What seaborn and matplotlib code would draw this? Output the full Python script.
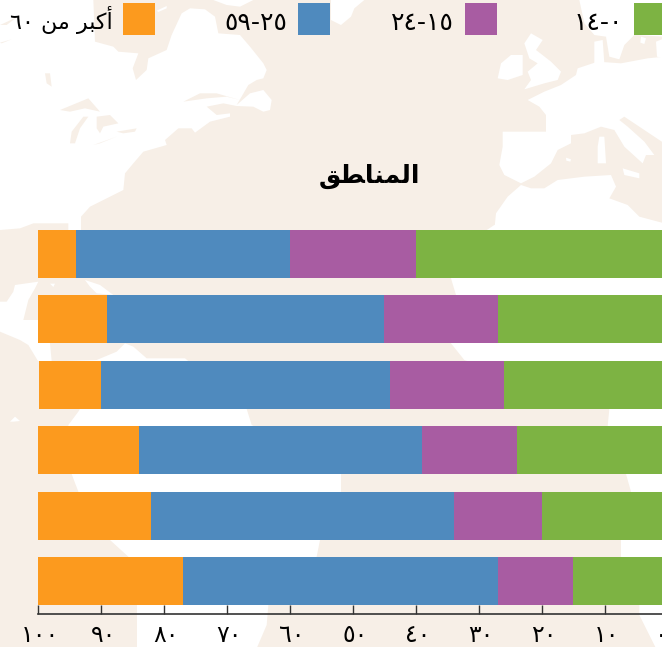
import matplotlib
matplotlib.use("Agg")
import matplotlib.pyplot as plt
from matplotlib.transforms import ScaledTranslation
import pandas as pd
import seaborn as sns

# ---- data; row labels are not shown in the reference
regions = ["R1", "R2", "R3", "R4", "R5", "R6"]
age_0_14 = [40, 27, 26, 24, 20, 15]
age_15_24 = [20, 18.1, 18.1, 15, 14, 12]
age_25_59 = [34, 43.9, 45.9, 45, 48, 50]
age_60_plus = [6, 11, 9.9, 16, 18, 23]
series_labels = ["١٤-٠", "٢٤-١٥", "٥٩-٢٥", "٦٠ ﻦﻣ ﺮﺒﻛﺃ"]
series_colors = ["#7DB343", "#A85CA2", "#4F8ABE", "#FC9A1E"]
tick_values = [100, 90, 80, 70, 60, 50, 40, 30, 20, 10, 0]
tick_labels = ["١٠٠", "٩٠", "٨٠", "٧٠", "٦٠", "٥٠", "٤٠", "٣٠", "٢٠", "١٠", "٠"]
title_text = "ﻖﻄﺎﻨﻤﻟﺍ"

BEIGE = "#F7EFE7"
sns.set_theme(style="white")
plt.rcParams["font.family"] = ["DejaVu Sans"]

W, H = 662, 647
fig = plt.figure(figsize=(W / 100, H / 100), dpi=100, facecolor=BEIGE)

# ---- faint background map (white land on a beige sea), decoration only
bg = fig.add_axes([0, 0, 1, 1], zorder=0)
bg.set_xlim(0, W)
bg.set_ylim(H, 0)
bg.axis("off")


def shape(pts, ox=0, oy=0, color="white"):
    xs = [ox + p[0] / 3 for p in pts]
    ys = [oy + p[1] / 3 for p in pts]
    bg.fill(xs, ys, color=color, lw=0)


north_america = [(0, 0), (280, 0), (285, 125), (340, 140), (355, 155), (415, 160), (398, 205), (408, 240),
                 (440, 210), (445, 175), (500, 150), (515, 105), (545, 40), (570, 25), (615, 28), (645, 50),
                 (655, 100), (720, 105), (750, 140), (790, 190), (800, 210), (790, 235), (770, 240), (745, 255),
                 (710, 315), (750, 280), (790, 270), (815, 300), (810, 330), (790, 335), (760, 320), (710, 318),
                 (670, 310), (620, 320), (650, 345), (690, 340), (690, 350), (630, 365), (585, 398), (575, 385),
                 (535, 385), (495, 420), (500, 435), (430, 455), (400, 490), (375, 520), (370, 570), (330, 590),
                 (270, 620), (243, 650), (243, 700), (205, 690), (205, 670), (100, 670), (60, 685), (0, 690)]
shape(north_america)
baffin = [(640, 0), (760, 0), (720, 20), (680, 15)]
shape(baffin)
shape([(470, 32), (500, 18), (500, 25), (475, 36)])
# lakes and gulfs on top of the land
for lake in ([(180, 330), (265, 295), (300, 335), (255, 325), (210, 335)],
             [(210, 430), (215, 395), (250, 350), (265, 350), (240, 385), (225, 430)],
             [(290, 350), (330, 345), (355, 370), (310, 380), (300, 400), (290, 385)],
             [(280, 435), (350, 410), (300, 430)],
             [(350, 395), (410, 385), (405, 395), (370, 400)],
             [(135, 220), (150, 220), (155, 260), (140, 250)],
             [(550, 305), (600, 280), (650, 280), (720, 300), (680, 290), (620, 295)],
             [(0, 75), (50, 52), (20, 75)],
             [(0, 128), (35, 118), (5, 130)]):
    shape(lake, color=BEIGE)

# zoomed-crop origin (0, 225)
central_america = [(45, 180), (115, 170), (105, 190), (85, 225), (70, 285), (114, 285), (150, 355), (155, 408),
                   (114, 408), (85, 360), (60, 345), (0, 320), (0, 230), (20, 230), (40, 200)]
shape(central_america, 0, 225)
shape([(255, 165), (300, 180), (340, 210), (290, 205), (270, 185)], 0, 225)
shape([(150, 176), (165, 176), (160, 186)], 0, 225)
shape([(30, 590), (45, 575), (60, 588), (40, 590)], 0, 225)
south_america = [(130, 410), (290, 405), (350, 380), (375, 355), (400, 365), (440, 400), (555, 400), (740, 552),
                 (755, 600), (1023, 747), (1023, 800), (960, 945), (950, 995), (805, 1140), (800, 1200),
                 (770, 1270), (411, 1270), (411, 1140), (385, 995), (330, 945), (235, 800), (215, 747),
                 (205, 600), (235, 560), (240, 552)]
shape(south_america, 0, 225)

# zoomed-crop origin (331, 0)
europe = [(590, 300), (640, 275), (690, 255), (735, 225), (740, 205), (800, 185), (870, 190), (950, 175),
          (1000, 170), (1000, 430), (880, 350), (865, 360), (890, 380), (940, 425), (970, 465), (945, 465),
          (935, 490), (880, 440), (850, 390), (810, 380), (760, 400), (720, 405), (720, 430), (680, 450),
          (660, 490), (610, 530), (570, 550), (520, 525), (505, 495), (515, 440), (515, 395), (645, 395),
          (645, 345), (625, 320)]
shape(europe, 331, 0)
shape([(875, 505), (925, 520), (925, 535), (880, 525)], 331, 0)
shape([(805, 410), (820, 410), (825, 490), (800, 490), (800, 440)], 331, 0)
shape([(705, 473), (720, 478), (718, 485), (706, 482)], 331, 0)
shape([(500, 235), (510, 190), (540, 165), (575, 165), (575, 225), (530, 240)], 331, 0)
uk = [(580, 130), (600, 100), (635, 120), (615, 150), (660, 185), (690, 215), (680, 240), (640, 250), (580, 268),
      (600, 240), (590, 215), (620, 190), (595, 175)]
shape(uk, 331, 0)
scandinavia = [(745, 0), (1000, 0), (1000, 110), (910, 105), (880, 135), (865, 178), (835, 170), (825, 110),
               (790, 105), (760, 70)]
shape(scandinavia, 331, 0)
shape([(790, 125), (815, 120), (820, 190), (790, 190)], 331, 0)
shape([(0, 0), (0, 60), (30, 75), (60, 50), (70, 25), (100, 0)], 331, 0)
shape([(930, 110), (945, 115), (940, 132), (928, 128)], 331, 0)
shape([(975, 125), (1000, 115), (1000, 175), (978, 170)], 331, 0)
africa_north = [(570, 555), (600, 565), (640, 565), (680, 540), (760, 530), (840, 525), (855, 560), (835, 595),
                (890, 615), (925, 650), (1000, 670), (1000, 690), (490, 690), (495, 640), (530, 590)]
shape(africa_north, 331, 0)
# zoomed-crop origin (331, 225)
africa_south = [(490, 0), (430, 40), (360, 160), (375, 210), (360, 355), (400, 405), (835, 552), (830, 603),
                (885, 747), (900, 800), (870, 945), (870, 995), (925, 1140), (925, 1170), (975, 1270),
                (1000, 1270), (1000, 0)]
shape(africa_south, 331, 225)

# ---- stacked bars
left, right, top, bottom = 38.2, 667.6, 221.3, 613.7
ax = fig.add_axes([left / W, 1 - bottom / H, (right - left) / W, (bottom - top) / H], zorder=1)
ax.patch.set_alpha(0)

df = pd.DataFrame({"region": regions, "g0": age_0_14, "g1": age_15_24, "g2": age_25_59, "g3": age_60_plus})
cols = ["g0", "g1", "g2", "g3"]
cum = df[cols].cumsum(axis=1)
for col, color in reversed(list(zip(cols, series_colors))):
    sns.barplot(data=cum.assign(region=df["region"]), y="region", x=col, color=color, saturation=1,
                width=0.734, orient="y", ax=ax, errorbar=None, zorder=3, linewidth=0, edgecolor="none")

ax.set_xlim(100, 0)
ax.set_ylim(5.5, -0.5)
ax.set_xlabel("")
ax.set_ylabel("")
ax.set_yticks([])
ax.set_xticks(tick_values)
ax.set_xticklabels(tick_labels, fontsize=17, color="black")
ax.tick_params(axis="x", direction="in", length=6.5, width=1.0, color="#333333", pad=6.5, bottom=True)
ax.grid(False)
for s in ("left", "right", "top"):
    ax.spines[s].set_visible(False)
ax.spines["bottom"].set_color("#333333")
ax.spines["bottom"].set_linewidth(1.2)
labels = ax.get_xticklabels()
labels[-1].set_ha("right")
for lab in labels[:-1]:
    lab.set_transform(lab.get_transform() + ScaledTranslation(2 / 100, 0, fig.dpi_scale_trans))

ax.set_title(title_text, x=0.526, pad=27.5, fontsize=18, fontweight="bold", color="black")

# ---- legend: one swatch + label each, placed as in the reference
swatch_right = [666, 497, 330, 155]
legend_sizes = [18, 18, 18, 16]
SWATCH_PX = 32
for label, color, xr, fs in zip(series_labels, series_colors, swatch_right, legend_sizes):
    h = plt.Rectangle((0, 0), 1, 1, color=color, lw=0)
    fs_px = fs * 100 / 72
    hl = SWATCH_PX / fs_px
    hh = (hl - 0.245) / 0.65
    leg = fig.legend([h], [label], loc="upper right", bbox_to_anchor=(xr / W, 1 - 3 / H),
                     frameon=False, fontsize=fs, markerfirst=False, borderpad=0, borderaxespad=0,
                     handlelength=hl, handleheight=hh, handletextpad=0.45, labelcolor="black")
    leg.get_texts()[0].set_position((0, -3))

fig.savefig("out.png", dpi=100, facecolor=BEIGE)
